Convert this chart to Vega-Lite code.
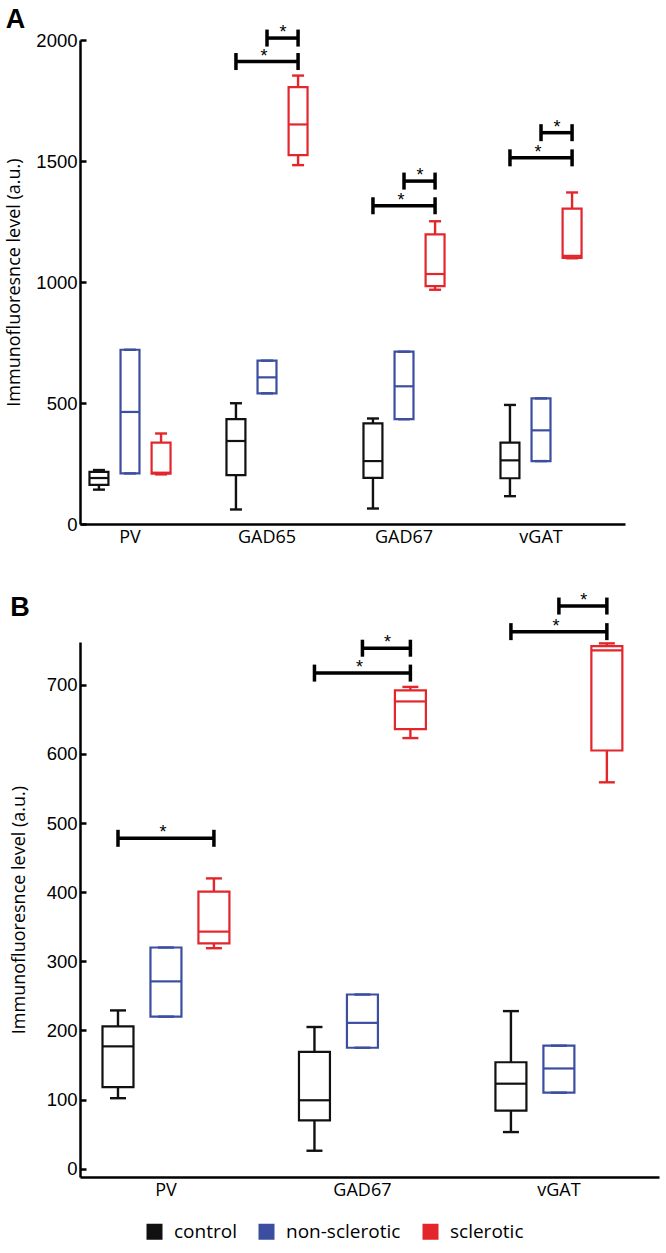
{
  "$schema": "https://vega.github.io/schema/vega-lite/v6.json",
  "padding": {"left": 5, "top": 6, "right": 5, "bottom": 5},
  "background": "white",
  "datasets": {
    "boxes": [
      {"panel": "A", "marker": "PV", "group": "control", "min": 142, "q1": 162, "median": 190, "q3": 215, "max": 223},
      {"panel": "A", "marker": "PV", "group": "non-sclerotic", "min": 209, "q1": 209, "median": 463, "q3": 720, "max": 720},
      {"panel": "A", "marker": "PV", "group": "sclerotic", "min": 205, "q1": 208, "median": 212, "q3": 336, "max": 374},
      {"panel": "A", "marker": "GAD65", "group": "control", "min": 60, "q1": 202, "median": 343, "q3": 433, "max": 499},
      {"panel": "A", "marker": "GAD65", "group": "non-sclerotic", "min": 540, "q1": 540, "median": 606, "q3": 675, "max": 675},
      {"panel": "A", "marker": "GAD65", "group": "sclerotic", "min": 1483, "q1": 1524, "median": 1651, "q3": 1805, "max": 1853},
      {"panel": "A", "marker": "GAD67", "group": "control", "min": 64, "q1": 191, "median": 260, "q3": 416, "max": 436},
      {"panel": "A", "marker": "GAD67", "group": "non-sclerotic", "min": 433, "q1": 433, "median": 569, "q3": 712, "max": 712},
      {"panel": "A", "marker": "GAD67", "group": "sclerotic", "min": 968, "q1": 983, "median": 1033, "q3": 1197, "max": 1251},
      {"panel": "A", "marker": "vGAT", "group": "control", "min": 115, "q1": 189, "median": 263, "q3": 336, "max": 492},
      {"panel": "A", "marker": "vGAT", "group": "non-sclerotic", "min": 260, "q1": 260, "median": 387, "q3": 519, "max": 519},
      {"panel": "A", "marker": "vGAT", "group": "sclerotic", "min": 1098, "q1": 1100, "median": 1108, "q3": 1303, "max": 1370},
      {"panel": "B", "marker": "PV", "group": "control", "min": 102, "q1": 118, "median": 177, "q3": 206, "max": 229},
      {"panel": "B", "marker": "PV", "group": "non-sclerotic", "min": 220, "q1": 220, "median": 271, "q3": 320, "max": 320},
      {"panel": "B", "marker": "PV", "group": "sclerotic", "min": 319, "q1": 326, "median": 343, "q3": 401, "max": 420},
      {"panel": "B", "marker": "GAD67", "group": "control", "min": 26, "q1": 70, "median": 99, "q3": 169, "max": 205},
      {"panel": "B", "marker": "GAD67", "group": "non-sclerotic", "min": 175, "q1": 175, "median": 211, "q3": 252, "max": 252},
      {"panel": "B", "marker": "GAD67", "group": "sclerotic", "min": 623, "q1": 636, "median": 676, "q3": 692, "max": 697},
      {"panel": "B", "marker": "vGAT", "group": "control", "min": 53, "q1": 84, "median": 123, "q3": 154, "max": 228},
      {"panel": "B", "marker": "vGAT", "group": "non-sclerotic", "min": 110, "q1": 110, "median": 145, "q3": 178, "max": 178},
      {"panel": "B", "marker": "vGAT", "group": "sclerotic", "min": 559, "q1": 605, "median": 750, "q3": 756, "max": 760}
    ],
    "sig": [
      {"panel": "A", "marker": "GAD65", "bar": "A-GAD65-long", "group": "control", "y": 1911},
      {"panel": "A", "marker": "GAD65", "bar": "A-GAD65-long", "group": "sclerotic", "y": 1911},
      {"panel": "A", "marker": "GAD65", "bar": "A-GAD65-short", "group": "non-sclerotic", "y": 2008},
      {"panel": "A", "marker": "GAD65", "bar": "A-GAD65-short", "group": "sclerotic", "y": 2008},
      {"panel": "A", "marker": "GAD67", "bar": "A-GAD67-long", "group": "control", "y": 1315},
      {"panel": "A", "marker": "GAD67", "bar": "A-GAD67-long", "group": "sclerotic", "y": 1315},
      {"panel": "A", "marker": "GAD67", "bar": "A-GAD67-short", "group": "non-sclerotic", "y": 1417},
      {"panel": "A", "marker": "GAD67", "bar": "A-GAD67-short", "group": "sclerotic", "y": 1417},
      {"panel": "A", "marker": "vGAT", "bar": "A-vGAT-long", "group": "control", "y": 1513},
      {"panel": "A", "marker": "vGAT", "bar": "A-vGAT-long", "group": "sclerotic", "y": 1513},
      {"panel": "A", "marker": "vGAT", "bar": "A-vGAT-short", "group": "non-sclerotic", "y": 1617},
      {"panel": "A", "marker": "vGAT", "bar": "A-vGAT-short", "group": "sclerotic", "y": 1617},
      {"panel": "B", "marker": "PV", "bar": "B-PV-long", "group": "control", "y": 478},
      {"panel": "B", "marker": "PV", "bar": "B-PV-long", "group": "sclerotic", "y": 478},
      {"panel": "B", "marker": "GAD67", "bar": "B-GAD67-long", "group": "control", "y": 717},
      {"panel": "B", "marker": "GAD67", "bar": "B-GAD67-long", "group": "sclerotic", "y": 717},
      {"panel": "B", "marker": "GAD67", "bar": "B-GAD67-short", "group": "non-sclerotic", "y": 753},
      {"panel": "B", "marker": "GAD67", "bar": "B-GAD67-short", "group": "sclerotic", "y": 753},
      {"panel": "B", "marker": "vGAT", "bar": "B-vGAT-long", "group": "control", "y": 777},
      {"panel": "B", "marker": "vGAT", "bar": "B-vGAT-long", "group": "sclerotic", "y": 777},
      {"panel": "B", "marker": "vGAT", "bar": "B-vGAT-short", "group": "non-sclerotic", "y": 814},
      {"panel": "B", "marker": "vGAT", "bar": "B-vGAT-short", "group": "sclerotic", "y": 814}
    ],
    "stars": [
      {"panel": "A", "marker": "GAD65", "kind": "long", "group": "non-sclerotic", "y": 1911},
      {"panel": "A", "marker": "GAD65", "kind": "short", "group": "sclerotic", "y": 2008},
      {"panel": "A", "marker": "GAD67", "kind": "long", "group": "non-sclerotic", "y": 1315},
      {"panel": "A", "marker": "GAD67", "kind": "short", "group": "sclerotic", "y": 1417},
      {"panel": "A", "marker": "vGAT", "kind": "long", "group": "non-sclerotic", "y": 1513},
      {"panel": "A", "marker": "vGAT", "kind": "short", "group": "sclerotic", "y": 1617},
      {"panel": "B", "marker": "PV", "kind": "long", "group": "non-sclerotic", "y": 478},
      {"panel": "B", "marker": "GAD67", "kind": "long", "group": "non-sclerotic", "y": 717},
      {"panel": "B", "marker": "GAD67", "kind": "short", "group": "sclerotic", "y": 753},
      {"panel": "B", "marker": "vGAT", "kind": "long", "group": "non-sclerotic", "y": 777},
      {"panel": "B", "marker": "vGAT", "kind": "short", "group": "sclerotic", "y": 814}
    ]
  },
  "spacing": 46,
  "resolve": {"scale": {"xOffset": "independent", "color": "shared"}, "legend": {"color": "shared"}},
  "vconcat": [
    {
      "width": 545,
      "height": 484,
      "title": {"text": "A", "anchor": "start", "frame": "bounds", "font": "Liberation Sans", "fontSize": 27, "fontWeight": "bold", "color": "#000", "offset": -10},
      "encoding": {
        "x": {"field": "marker", "type": "nominal", "scale": {"domain": ["PV", "GAD65", "GAD67", "vGAT"], "paddingInner": 0.27, "paddingOuter": 0.124, "align": 0}, "axis": {"title": null, "ticks": false, "labelAngle": 0, "labelFont": "Open Sans", "labelFontSize": 18, "labelPadding": 4}},
        "xOffset": {"field": "group", "type": "nominal", "scale": {"domain": ["control", "non-sclerotic", "sclerotic"], "paddingInner": 0.39, "paddingOuter": 0.305}},
        "color": {"field": "group", "type": "nominal", "scale": {"domain": ["control", "non-sclerotic", "sclerotic"], "range": ["#111111", "#3b4ea0", "#e2262c"]},
          "legend": {"orient": "none", "legendX": 65, "legendY": 1182, "direction": "horizontal", "title": null, "symbolType": "square", "symbolSize": 196, "labelFont": "Open Sans", "labelFontSize": 19, "labelColor": "#000", "labelOffset": 10, "columnPadding": 18, "padding": 0, "labelBaseline": "middle",
            "encode": {"symbols": {"update": {"fill": {"scale": "color", "field": "value"}, "fillOpacity": {"value": 1}, "stroke": {"signal": "datum.value === 'sclerotic' ? '#000000' : datum.value === 'control' ? '#6a6a6a' : '#8a92cc'"}, "strokeWidth": {"value": 2}}}}}}
      },
      "layer": [
        {
          "data": {"name": "boxes"},
          "transform": [{"filter": "datum.panel === 'A'"}],
          "layer": [
            {"mark": {"type": "rule", "strokeWidth": 2.4}, "encoding": {"y": {"field": "min", "type": "quantitative", "title": "Immunofluoresnce level (a.u.)", "scale": {"domain": [0, 2000], "nice": false, "zero": false}, "axis": {"values": [0, 500, 1000, 1500, 2000], "format": "d", "tickSize": -6, "labelPadding": 9, "labelFont": "Liberation Sans", "labelFontSize": 18.5, "titleFont": "Open Sans", "titleFontSize": 18, "titleFontWeight": "normal", "titlePadding": 12}}, "y2": {"field": "q1"}}},
            {"mark": {"type": "rule", "strokeWidth": 2.4}, "encoding": {"y": {"field": "q3", "type": "quantitative", "title": "Immunofluoresnce level (a.u.)"}, "y2": {"field": "max"}}},
            {"mark": {"type": "tick", "size": 12, "thickness": 2.4, "opacity": 1}, "encoding": {"y": {"field": "min", "type": "quantitative", "title": "Immunofluoresnce level (a.u.)"}}},
            {"mark": {"type": "tick", "size": 12, "thickness": 2.4, "opacity": 1}, "encoding": {"y": {"field": "max", "type": "quantitative", "title": "Immunofluoresnce level (a.u.)"}}},
            {"mark": {"type": "bar", "filled": false, "strokeWidth": 2.2, "opacity": 1}, "encoding": {"y": {"field": "q1", "type": "quantitative", "title": "Immunofluoresnce level (a.u.)"}, "y2": {"field": "q3"}}},
            {"mark": {"type": "tick", "size": 19, "thickness": 2.2, "opacity": 1}, "encoding": {"y": {"field": "median", "type": "quantitative", "title": "Immunofluoresnce level (a.u.)"}}}
          ]
        },
        {
          "data": {"name": "sig"},
          "transform": [{"filter": "datum.panel === 'A'"}],
          "layer": [
            {"mark": {"type": "line", "strokeWidth": 3.5}, "encoding": {"y": {"field": "y", "type": "quantitative", "title": "Immunofluoresnce level (a.u.)"}, "detail": {"field": "bar"}, "color": {"value": "#000000"}}},
            {"mark": {"type": "tick", "size": 3.5, "thickness": 17, "opacity": 1}, "encoding": {"y": {"field": "y", "type": "quantitative", "title": "Immunofluoresnce level (a.u.)"}, "color": {"value": "#000000"}}}
          ]
        },
        {
          "data": {"name": "stars"},
          "transform": [{"filter": "datum.panel === 'A' && datum.kind === 'long'"}],
          "mark": {"type": "text", "text": "*", "font": "Liberation Sans", "fontSize": 18, "dx": -3, "baseline": "alphabetic"},
          "encoding": {"y": {"field": "y", "type": "quantitative", "title": "Immunofluoresnce level (a.u.)"}, "color": {"value": "#000000"}}
        },
        {
          "data": {"name": "stars"},
          "transform": [{"filter": "datum.panel === 'A' && datum.kind === 'short'"}],
          "mark": {"type": "text", "text": "*", "font": "Liberation Sans", "fontSize": 18, "dx": -15, "baseline": "alphabetic"},
          "encoding": {"y": {"field": "y", "type": "quantitative", "title": "Immunofluoresnce level (a.u.)"}, "color": {"value": "#000000"}}
        }
      ]
    },
    {
      "width": 579,
      "height": 535,
      "title": {"text": "B", "anchor": "start", "frame": "bounds", "font": "Liberation Sans", "fontSize": 27, "fontWeight": "bold", "color": "#000", "offset": -30},
      "encoding": {
        "x": {"field": "marker", "type": "nominal", "scale": {"domain": ["PV", "GAD67", "vGAT"], "paddingInner": 0.125, "paddingOuter": 0.036, "align": 0}, "axis": {"title": null, "ticks": false, "labelAngle": 0, "labelFont": "Open Sans", "labelFontSize": 18, "labelPadding": 4}},
        "xOffset": {"field": "group", "type": "nominal", "scale": {"domain": ["control", "non-sclerotic", "sclerotic"], "paddingInner": 0.354, "paddingOuter": 0.469}},
        "color": {"field": "group", "type": "nominal", "scale": {"domain": ["control", "non-sclerotic", "sclerotic"], "range": ["#111111", "#3b4ea0", "#e2262c"]},
          "legend": {"orient": "none", "legendX": 65, "legendY": 1182, "direction": "horizontal", "title": null, "symbolType": "square", "symbolSize": 196, "labelFont": "Open Sans", "labelFontSize": 19, "labelColor": "#000", "labelOffset": 10, "columnPadding": 18, "padding": 0, "labelBaseline": "middle",
            "encode": {"symbols": {"update": {"fill": {"scale": "color", "field": "value"}, "fillOpacity": {"value": 1}, "stroke": {"signal": "datum.value === 'sclerotic' ? '#000000' : datum.value === 'control' ? '#6a6a6a' : '#8a92cc'"}, "strokeWidth": {"value": 2}}}}}}
      },
      "layer": [
        {
          "data": {"name": "boxes"},
          "transform": [{"filter": "datum.panel === 'B'"}],
          "layer": [
            {"mark": {"type": "rule", "strokeWidth": 2.4}, "encoding": {"y": {"field": "min", "type": "quantitative", "title": "Immunofluoresnce level (a.u.)", "scale": {"domain": [-12, 762], "nice": false, "zero": false}, "axis": {"values": [0, 100, 200, 300, 400, 500, 600, 700], "format": "d", "tickSize": -6, "labelPadding": 9, "labelFont": "Liberation Sans", "labelFontSize": 18.5, "titleFont": "Open Sans", "titleFontSize": 18, "titleFontWeight": "normal", "titlePadding": 18}}, "y2": {"field": "q1"}}},
            {"mark": {"type": "rule", "strokeWidth": 2.4}, "encoding": {"y": {"field": "q3", "type": "quantitative", "title": "Immunofluoresnce level (a.u.)"}, "y2": {"field": "max"}}},
            {"mark": {"type": "tick", "size": 16, "thickness": 2.4, "opacity": 1}, "encoding": {"y": {"field": "min", "type": "quantitative", "title": "Immunofluoresnce level (a.u.)"}}},
            {"mark": {"type": "tick", "size": 16, "thickness": 2.4, "opacity": 1}, "encoding": {"y": {"field": "max", "type": "quantitative", "title": "Immunofluoresnce level (a.u.)"}}},
            {"mark": {"type": "bar", "filled": false, "strokeWidth": 2.2, "opacity": 1}, "encoding": {"y": {"field": "q1", "type": "quantitative", "title": "Immunofluoresnce level (a.u.)"}, "y2": {"field": "q3"}}},
            {"mark": {"type": "tick", "size": 31, "thickness": 2.2, "opacity": 1}, "encoding": {"y": {"field": "median", "type": "quantitative", "title": "Immunofluoresnce level (a.u.)"}}}
          ]
        },
        {
          "data": {"name": "sig"},
          "transform": [{"filter": "datum.panel === 'B'"}],
          "layer": [
            {"mark": {"type": "line", "strokeWidth": 3.5}, "encoding": {"y": {"field": "y", "type": "quantitative", "title": "Immunofluoresnce level (a.u.)"}, "detail": {"field": "bar"}, "color": {"value": "#000000"}}},
            {"mark": {"type": "tick", "size": 3.5, "thickness": 17, "opacity": 1}, "encoding": {"y": {"field": "y", "type": "quantitative", "title": "Immunofluoresnce level (a.u.)"}, "color": {"value": "#000000"}}}
          ]
        },
        {
          "data": {"name": "stars"},
          "transform": [{"filter": "datum.panel === 'B' && datum.kind === 'long'"}],
          "mark": {"type": "text", "text": "*", "font": "Liberation Sans", "fontSize": 18, "dx": -3, "baseline": "alphabetic"},
          "encoding": {"y": {"field": "y", "type": "quantitative", "title": "Immunofluoresnce level (a.u.)"}, "color": {"value": "#000000"}}
        },
        {
          "data": {"name": "stars"},
          "transform": [{"filter": "datum.panel === 'B' && datum.kind === 'short'"}],
          "mark": {"type": "text", "text": "*", "font": "Liberation Sans", "fontSize": 18, "dx": -23, "baseline": "alphabetic"},
          "encoding": {"y": {"field": "y", "type": "quantitative", "title": "Immunofluoresnce level (a.u.)"}, "color": {"value": "#000000"}}
        }
      ]
    }
  ],
  "config": {
    "view": {"stroke": null},
    "font": "Open Sans",
    "axis": {"grid": false, "domainColor": "#000000", "domainWidth": 2.5, "tickColor": "#000000", "tickWidth": 2.5, "labelColor": "#000000", "titleColor": "#000000"}
  }
}
